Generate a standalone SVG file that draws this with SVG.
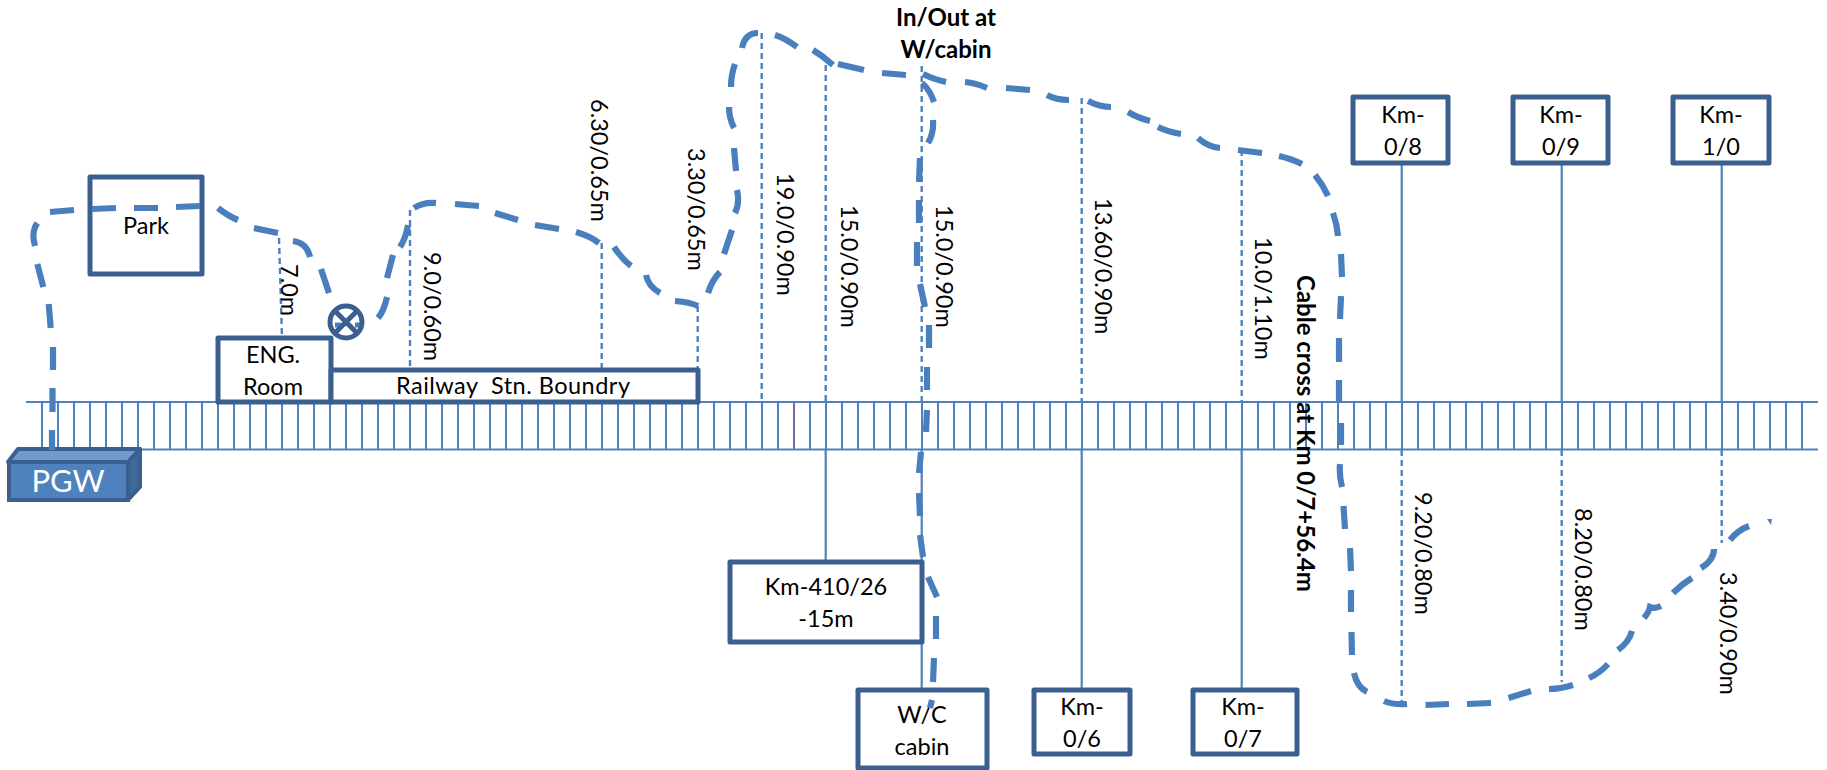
<svg xmlns="http://www.w3.org/2000/svg" width="1827" height="770" viewBox="0 0 1827 770">
<style>
text{font-family:Lato,"Liberation Sans",sans-serif;font-size:23.500px;fill:#000;white-space:pre}
.c{text-anchor:middle}
.b{font-weight:700;font-size:24px}
.box{fill:#fff;stroke:#3B6090;stroke-width:5;stroke-linejoin:round}
.rail{stroke:#4F81BD;stroke-width:2.200;fill:none}
.thin{stroke:#4F81BD;stroke-width:2.200;fill:none}
.dash{stroke:#4F81BD;stroke-width:2.400;stroke-dasharray:6 4;fill:none}
.cable{stroke:#4A7FBD;stroke-width:6.200;fill:none}
</style>
<defs>
<pattern id="ties" x="41" y="0" width="16" height="10" patternUnits="userSpaceOnUse"><rect x="0" y="0" width="2" height="10" fill="#4F81BD"/></pattern>
</defs>
<g id="track">
<rect x="41" y="402" width="1762" height="48" fill="url(#ties)"/>
<rect x="793" y="402" width="2" height="48" fill="#8064A2"/>
<path class="rail" d="M26 402H1818M26 449.500H1818"/>
</g>
<g id="connectors">
<path class="dash" d="M279 238L282 338M410 210V370M601.700 243V370M697.700 306V370M761.700 33V402M825.700 65V402M921.700 66V402M1081.700 98V402M1241.700 150V402M1401.700 450V704M1561.700 450V682M1721.700 450V543"/>
<path class="thin" d="M825.700 450V562M921.700 450V690M1081.700 450V690M1241.700 450V690M1401.700 165V402M1561.700 165V402M1721.700 165V402"/>
</g>
<g id="park"><rect class="box" x="90" y="177" width="112" height="97"/><text class="c" x="146" y="234">Park</text></g>
<g id="eng-room"><rect class="box" x="218" y="338" width="113" height="64"/><text class="c" x="273" y="363">ENG.</text><text class="c" x="273" y="395">Room</text></g>
<g id="boundary"><rect class="box" x="331" y="370" width="367" height="32"/><text class="c" x="513" y="394" textLength="234">Railway  Stn. Boundry</text></g>
<g id="km-410"><rect class="box" x="730" y="562" width="192" height="80"/><text class="c" x="826" y="595">Km-410/26</text><text class="c" x="826" y="627">-15m</text></g>
<g id="wc-cabin"><rect class="box" x="858" y="690" width="129" height="78"/><text class="c" x="922" y="723">W/C</text><text class="c" x="922" y="755">cabin</text></g>
<g id="km-06"><rect class="box" x="1034" y="690" width="96" height="64"/><text class="c" x="1082" y="715">Km-</text><text class="c" x="1082" y="747">0/6</text></g>
<g id="km-07"><rect class="box" x="1193" y="690" width="104" height="64"/><text class="c" x="1243" y="715">Km-</text><text class="c" x="1243" y="747">0/7</text></g>
<g id="km-08"><rect class="box" x="1353" y="97" width="95" height="66"/><text class="c" x="1403" y="123">Km-</text><text class="c" x="1403" y="155">0/8</text></g>
<g id="km-09"><rect class="box" x="1513" y="97" width="95" height="66"/><text class="c" x="1561" y="123">Km-</text><text class="c" x="1561" y="155">0/9</text></g>
<g id="km-10"><rect class="box" x="1673" y="97" width="96" height="66"/><text class="c" x="1721" y="123">Km-</text><text class="c" x="1721" y="155">1/0</text></g>
<g id="pgw">
<path d="M8 462L18 449H140L128 462Z" fill="#729ACA" stroke="#3B6090" stroke-width="4" stroke-linejoin="round"/>
<path d="M128 462L140 449V487L128 500Z" fill="#3F689B" stroke="#3B6090" stroke-width="4" stroke-linejoin="round"/>
<rect x="9" y="462" width="119" height="38" fill="#4F81BD" stroke="#3B6090" stroke-width="4"/>
<text class="c" x="68" y="492" style="font-size:31px;fill:#fff">PGW</text>
</g>
<g id="cable">
<path class="cable" d="M52 450V430M52.500 412V388M53 370V347M50.700 328L48.700 304M43.300 287L37.300 264M35 246Q31 232 37.300 223M50 212L74 210M92 209L116 208M134 208L158 208M176 207L200 206M218 208Q228 216 238 220M254 228L278 233M293 241Q307 243 310 257M321 269L329 293"/>
<path class="cable" d="M378 318Q384 311 387 297M387 278L393 255M400 247Q406 238 408 225M414 208Q423 202 436 203M455 204L479 206M495 213L518 220M535 225L559 229M576 232Q590 236 599 243M614 247Q622 259 631 266M646 275Q648 286 660 293M675 301Q690 302 698 306"/>
<path class="cable" d="M708 293Q712 280 720 272M724 254L732 230M735 213Q740 203 737 190M736 171L734 148M734 128Q729 118 729 107M731 87Q731 75 735 64M742 48Q745 33 758 33M775 35Q785 38 797 47M813 50Q823 56 833 65M838 64L864 70M882 73L906 75M923 74Q933 79 946 82M965 82Q976 83 987 88M1006 88L1030 90M1047 95Q1056 100 1069 100M1088 101Q1100 107 1111 107M1128 112Q1138 118 1150 121M1158 127Q1168 132 1181 134M1198 138Q1208 147 1220 148M1238 150L1262 153M1279 156Q1292 159 1302 164M1315 175Q1323 185 1328 196M1333 213Q1337 224 1338 236M1341 254L1342 277M1341 296L1340 319M1339 338V362M1339 380V403M1341 423V445M1340 464Q1339 475 1342 487M1343.500 506L1345 529M1350 548L1351 571M1351 590V612M1351.500 632L1352 655M1354 673Q1357 687 1367 692M1384 701Q1393 705 1407 704M1425.500 705L1449 704M1467 704L1491 703M1508.500 698L1531 691M1549 689Q1560 689 1573 685M1589 678Q1600 673 1608 664M1618 650Q1629 642 1632 631M1644 618Q1649 612 1650 607Q1655 609 1661 606M1673 593Q1682 584 1692 578M1701 568Q1714 560 1714 549M1730 540Q1738 530 1749 526"/>
<path d="M1767 519L1772 519L1771 525Z" fill="#4A7FBD"/>
<path class="cable" d="M922 83Q930 90 934 102M933 120Q934 133 928 143M920 158L919 182M919 200V223M917 242V266M920 284L925 307M929 325V348M927 367V390M927 410L926 432M921 452L919 473M919 493L920 516M920 535L923 557M928 577L937 597M936 616V639M934 658L933 682M932 700L930 708"/>
</g>
<g id="junction">
<path d="M335 325H341M355 325H361" stroke="#4A7FBD" stroke-width="5" fill="none"/>
<circle cx="346" cy="322" r="16" fill="none" stroke="#3B6090" stroke-width="5"/>
<path d="M335 311L357 333M357 311L335 333" stroke="#3B6090" stroke-width="5" fill="none"/>
</g>
<g id="labels">
<text transform="translate(281 264) rotate(90)">7.0m</text>
<text transform="translate(424 252) rotate(90)">9.0/0.60m</text>
<text transform="translate(591 99) rotate(90)">6.30/0.65m</text>
<text transform="translate(688 148) rotate(90)">3.30/0.65m</text>
<text transform="translate(777 173) rotate(90)">19.0/0.90m</text>
<text transform="translate(841 205) rotate(90)">15.0/0.90m</text>
<text transform="translate(936 205) rotate(90)">15.0/0.90m</text>
<text transform="translate(1095 198) rotate(90)">13.60/0.90m</text>
<text transform="translate(1255 237) rotate(90)">10.0/1.10m</text>
<text class="b" transform="translate(1297 275) rotate(90)">Cable cross at Km 0/7+56.4m</text>
<text transform="translate(1415 492) rotate(90)">9.20/0.80m</text>
<text transform="translate(1575 508) rotate(90)">8.20/0.80m</text>
<text transform="translate(1720 572) rotate(90)">3.40/0.90m</text>
<text class="c b" x="946" y="26">In/Out at</text>
<text class="c b" x="946" y="58">W/cabin</text>
</g>
</svg>
